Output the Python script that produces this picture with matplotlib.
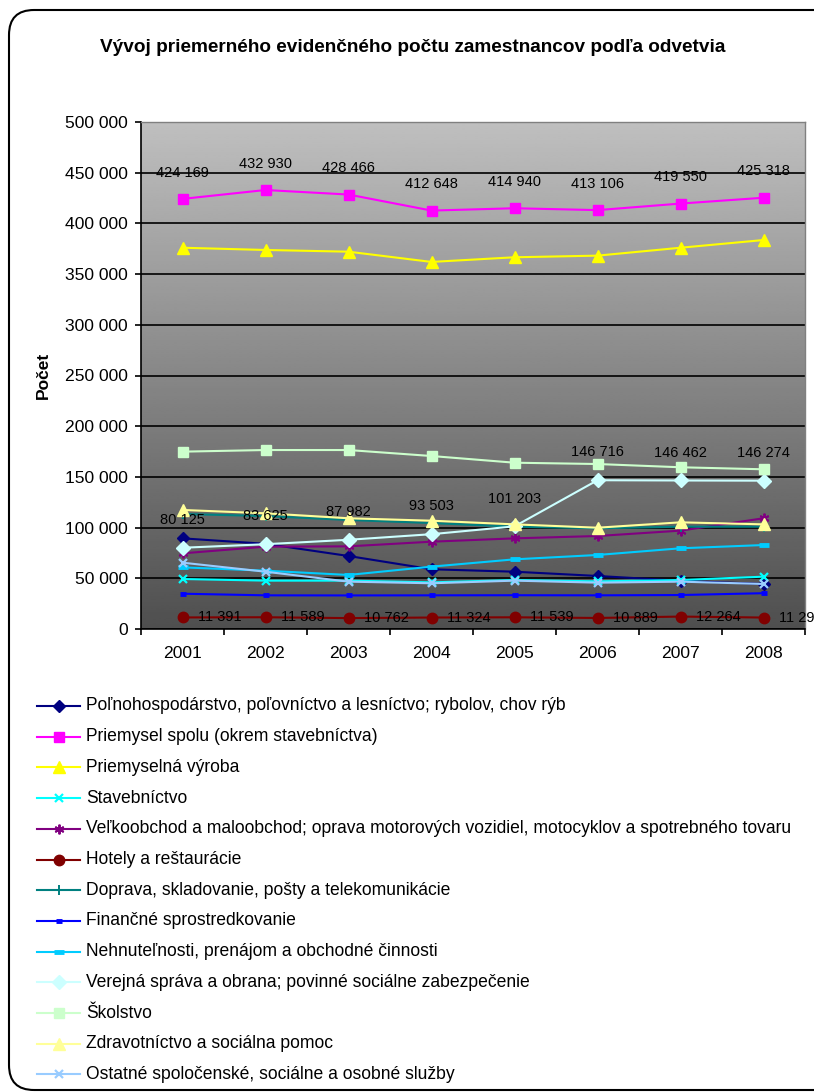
import numpy as np
import matplotlib
matplotlib.use('Agg')
import matplotlib.pyplot as plt
from matplotlib.lines import Line2D
from matplotlib.patches import FancyBboxPatch
from matplotlib.ticker import FuncFormatter, MultipleLocator
from matplotlib.transforms import IdentityTransform

plt.rcParams['font.family'] = ['Liberation Sans', 'DejaVu Sans']

# data
years = ['2001', '2002', '2003', '2004', '2005', '2006', '2007', '2008']
polnohospodarstvo = [89400, 84000, 72000, 58900, 56500, 52300, 47600, 44400]
priemysel = [424169, 432930, 428466, 412648, 414940, 413106, 419550, 425318]
vyroba = [376000, 373800, 372100, 362000, 366600, 368200, 376000, 383600]
stavebnictvo = [49300, 47700, 47700, 46000, 48300, 47000, 48300, 51600]
velkoobchod = [74600, 81200, 81500, 86100, 89400, 91700, 97000, 109200]
hotely = [11391, 11589, 10762, 11324, 11539, 10889, 12264, 11290]
doprava = [113400, 111400, 107500, 104500, 100900, 99300, 100900, 100900]
financne = [34800, 33200, 33100, 33200, 33300, 33200, 33500, 35300]
nehnutelnosti = [60800, 57500, 53300, 61500, 68700, 73000, 79600, 82800]
verejna = [80125, 83625, 87982, 93503, 101203, 146716, 146462, 146274]
skolstvo = [174900, 176500, 176500, 170600, 164000, 162700, 159500, 157500]
zdravotnictvo = [117400, 114100, 109200, 106800, 103200, 99900, 105200, 103200]
ostatne = [65400, 56500, 46700, 45100, 47700, 45700, 46700, 44400]

# label, values, color, marker, size, edge width
series = [
    ('Poľnohospodárstvo, poľovníctvo a lesníctvo; rybolov, chov rýb', polnohospodarstvo, '#000080', 'D', 6.5, 1),
    ('Priemysel spolu (okrem stavebníctva)', priemysel, '#FF00FF', 's', 6.5, 1),
    ('Priemyselná výroba', vyroba, '#FFFF00', '^', 8, 1),
    ('Stavebníctvo', stavebnictvo, '#00FFFF', 'x', 6, 1.6),
    ('Veľkoobchod a maloobchod; oprava motorových vozidiel, motocyklov a spotrebného tovaru', velkoobchod, '#800080', (6, 2, 0), 7, 1.4),
    ('Hotely a reštaurácie', hotely, '#800000', 'o', 7.5, 1),
    ('Doprava, skladovanie, pošty a telekomunikácie', doprava, '#008080', '+', 7, 1.4),
    ('Finančné sprostredkovanie', financne, '#0000FF', '_', 5, 3.5),
    ('Nehnuteľnosti, prenájom a obchodné činnosti', nehnutelnosti, '#00CCFF', '_', 7.5, 3.5),
    ('Verejná správa a obrana; povinné sociálne zabezpečenie', verejna, '#CCFFFF', 'D', 7, 1),
    ('Školstvo', skolstvo, '#CCFFCC', 's', 7, 1),
    ('Zdravotníctvo a sociálna pomoc', zdravotnictvo, '#FFFF99', '^', 8, 1),
    ('Ostatné spoločenské, sociálne a osobné služby', ostatne, '#99CCFF', 'x', 6, 1.6),
]

W, H = 814, 1092
fig = plt.figure(figsize=(W / 100, H / 100), dpi=100)
ax = fig.add_axes([141 / W, 1 - 629 / H, (805 - 141) / W, (629 - 122) / H])

# gray gradient plot area
grad = np.linspace(0.75, 0.31, 256).reshape(-1, 1)
ax.imshow(grad, extent=[-0.5, 7.5, 0, 500000], aspect='auto', cmap='gray',
          vmin=0, vmax=1, zorder=0, interpolation='bilinear')

x = np.arange(len(years))
for name, vals, color, marker, ms, mew in series:
    ax.plot(x, vals, color=color, lw=1.5, marker=marker, ms=ms, mfc=color,
            mec=color, mew=mew, zorder=3, clip_on=False)

fmt = lambda v: f'{v:,.0f}'.replace(',', ' ')

for xi, v in zip(x, priemysel):
    ax.annotate(fmt(v), (xi, v), xytext=(0, 19), textcoords='offset points',
                ha='center', va='center', fontsize=10.5, zorder=5, annotation_clip=False)
for xi, v in zip(x, verejna):
    ax.annotate(fmt(v), (xi, v), xytext=(0, 20), textcoords='offset points',
                ha='center', va='center', fontsize=10.5, zorder=5, annotation_clip=False)
for xi, v in zip(x, hotely):
    ax.annotate(fmt(v), (xi, v), xytext=(11, 0), textcoords='offset points',
                ha='left', va='center', fontsize=10.5, zorder=5, annotation_clip=False)

ax.set_xlim(-0.5, 7.5)
ax.set_ylim(0, 500000)
ax.set_xticks(x)
ax.set_xticklabels(years)
ax.set_xticks(np.arange(-0.5, 8, 1), minor=True)
ax.tick_params(axis='x', which='major', length=0, pad=12, labelsize=12.6)
ax.tick_params(axis='x', which='minor', length=4.3, width=1.2, direction='out')
ax.yaxis.set_major_locator(MultipleLocator(50000))
ax.yaxis.set_major_formatter(FuncFormatter(lambda v, p: fmt(v)))
ax.tick_params(axis='y', length=4.3, width=1.2, pad=5, labelsize=12.6)
ax.grid(axis='y', color='black', lw=1.2)
ax.set_axisbelow(True)
for s in ['top', 'right']:
    ax.spines[s].set_color('#808080')
    ax.spines[s].set_linewidth(1)
for s in ['left', 'bottom']:
    ax.spines[s].set_color('black')
    ax.spines[s].set_linewidth(1.2)

fig.text(413 / W, 1 - 47 / H, 'Vývoj priemerného evidenčného počtu zamestnancov podľa odvetvia',
         ha='center', va='center', fontsize=13.7, fontweight='bold')
fig.text(43 / W, 1 - 375 / H, 'Počet', ha='center', va='center', rotation=90,
         fontsize=12.5, fontweight='bold')

# legend below the chart
for i, (name, vals, color, marker, ms, mew) in enumerate(series):
    yc = 1 - (706 + i * 30.7) / H
    fig.add_artist(Line2D([37 / W, 58.5 / W, 80 / W], [yc, yc, yc], transform=fig.transFigure,
                          color=color, lw=1.5, marker=marker, ms=ms, mfc=color, mec=color,
                          mew=mew, markevery=[1]))
    fig.text(86 / W, yc, name, ha='left', va='center', fontsize=12.65)

# rounded outer frame
fig.add_artist(FancyBboxPatch((9, 2), 850, 1080, boxstyle='round,pad=0,rounding_size=25',
                              transform=IdentityTransform(), fill=False, ec='black', lw=1.5))

fig.savefig('out.png', dpi=100)
